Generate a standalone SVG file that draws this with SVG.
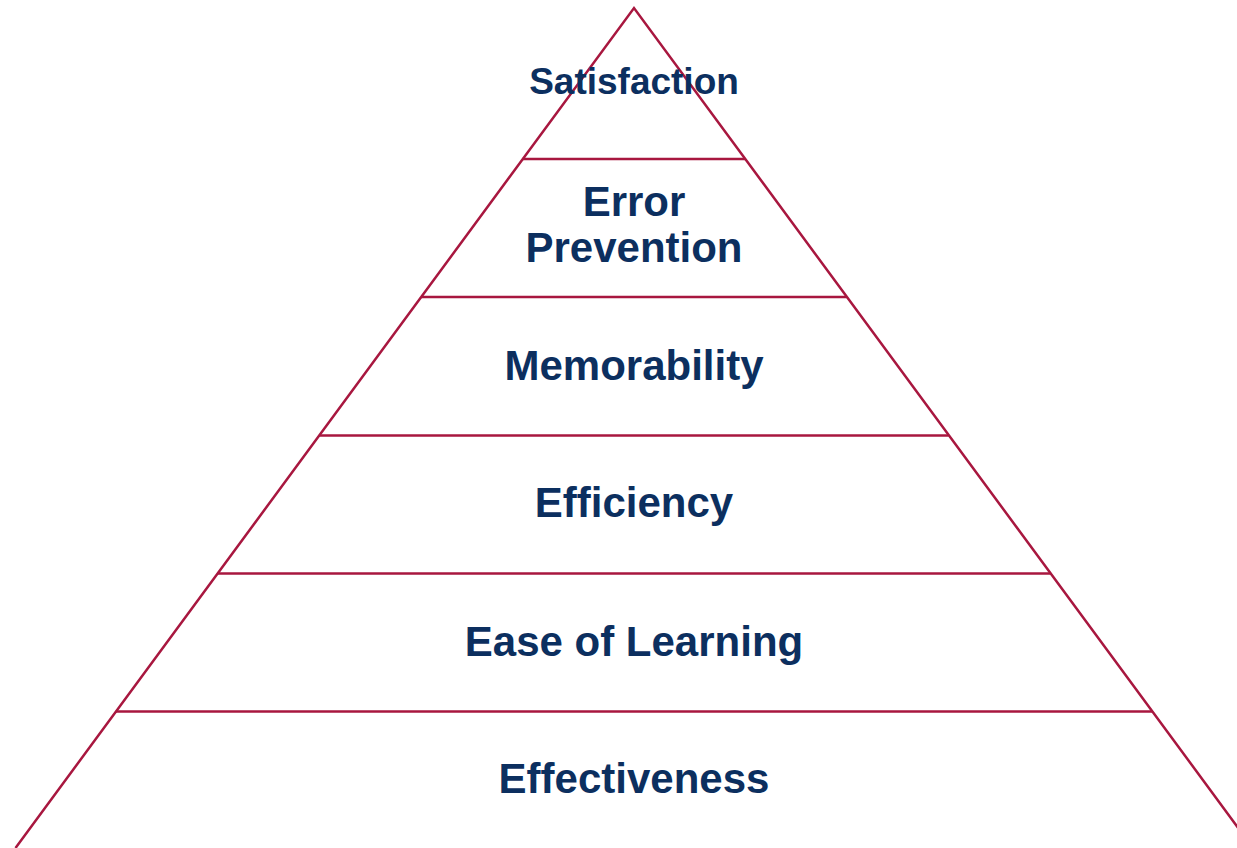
<svg xmlns="http://www.w3.org/2000/svg" width="1237" height="848" viewBox="0 0 1237 848">
<style>
.edge{fill:none;stroke:#A8173F;stroke-width:2.5;stroke-linejoin:miter}
.lbl{font-family:"Liberation Sans",Arial,sans-serif;font-weight:bold;font-size:42px;fill:#0C2F5F;text-anchor:middle}
</style>
<rect width="1237" height="848" fill="#ffffff"/>
<g id="connectors">
<polyline class="edge" points="15.5,848 634,8 1253,848"/>
<line class="edge" x1="522.8" y1="159" x2="745.2" y2="159"/>
<line class="edge" x1="421.2" y1="297" x2="846.8" y2="297"/>
<line class="edge" x1="319.5" y1="435.5" x2="948.5" y2="435.5"/>
<line class="edge" x1="217.5" y1="573.5" x2="1050.5" y2="573.5"/>
<line class="edge" x1="116" y1="711.5" x2="1152" y2="711.5"/>
</g>
<g id="satisfaction"><text class="lbl" x="634" y="94" style="font-size:37px">Satisfaction</text></g>
<g id="error-prevention"><text class="lbl" x="634" y="216">Error</text><text class="lbl" x="634" y="262">Prevention</text></g>
<g id="memorability"><text class="lbl" x="634" y="380">Memorability</text></g>
<g id="efficiency"><text class="lbl" x="634" y="517">Efficiency</text></g>
<g id="ease-of-learning"><text class="lbl" x="634" y="656">Ease of Learning</text></g>
<g id="effectiveness"><text class="lbl" x="634" y="793">Effectiveness</text></g>
</svg>
